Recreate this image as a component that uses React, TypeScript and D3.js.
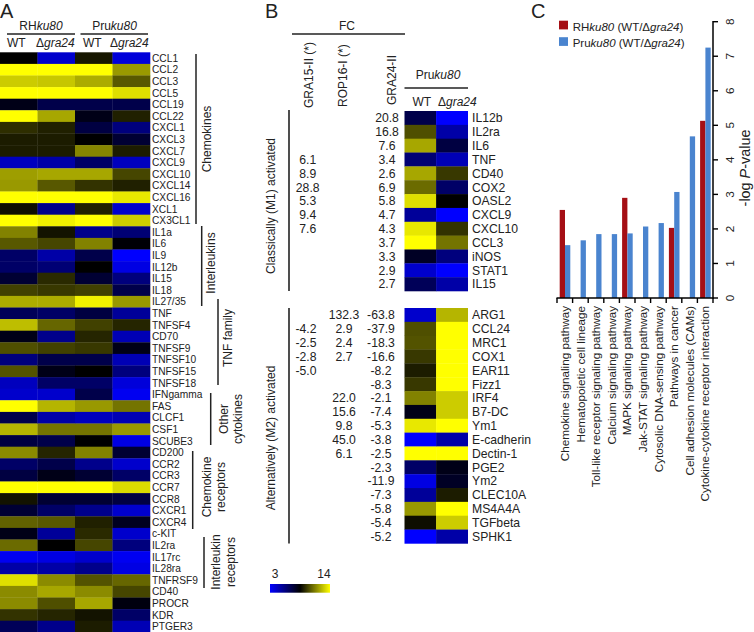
import React from "react";
import * as d3 from "d3";

// Panel A data
const genesA = ["CCL1","CCL2","CCL3","CCL5","CCL19","CCL22","CXCL1","CXCL3","CXCL7","CXCL9","CXCL10","CXCL14","CXCL16","XCL1","CX3CL1","IL1a","IL6","IL9","IL12b","IL15","IL18","IL27/35","TNF","TNFSF4","CD70","TNFSF9","TNFSF10","TNFSF15","TNFSF18","IFNgamma","FAS","CLCF1","CSF1","SCUBE3","CD200","CCR2","CCR3","CCR7","CCR8","CXCR1","CXCR4","c-KIT","IL2ra","IL17rc","IL28ra","TNFRSF9","CD40","PROCR","KDR","PTGER3"];
const rhWT = [8.5,14,12.9,14,8,14,9.5,9.1,9.1,4.4,11.9,11.8,14,8.8,14,11.3,10.4,6.3,6.3,7.4,9.9,12.2,6.6,12.6,8,10.2,5.8,10.3,4.4,4.1,14,6.9,12.4,7.1,11.5,6.3,7.1,14,8.9,7.4,10.6,8,10.8,3.3,4.9,13.3,11.5,11.5,9.6,6.6];
const rhDelta = [4.1,14,12.8,14,6.9,12.1,9.2,9.1,9.1,4.9,12.1,10.4,14,5.5,13.7,8.9,10,4.9,6,9.4,9.7,12.2,6.3,10.7,5.5,9.9,6.9,8,6.3,4.1,12.4,4.9,11,6.9,9.3,6.9,8,14,7.4,6.3,10.4,5.2,8.5,3.6,4.9,11.5,12.1,10.2,9.3,5.5];
const pruWT = [9,14,12.2,14,6.9,8,7.1,8.5,11.4,6.3,12.1,9.6,14,9.2,14,5.5,11.3,6.9,8.5,7.4,9.9,13.7,7.1,9.9,9.3,9.7,6.9,8.5,6.3,6.9,11.8,4.4,11,8.5,11.3,5.5,7.4,14,7.4,5.5,9.2,9.4,10,4.1,5.5,10.3,11.5,12.1,8.9,9.1];
const pruDelta = [3.8,11.8,10.4,13.3,6.9,9.2,5.8,7.4,9.1,4.4,10,9.2,13.5,4.1,12.9,6,8.4,3,3.6,5.8,6.9,11.8,5.2,9.3,4.6,8,4.6,5.8,3.8,3.3,11,4.6,11.8,3.6,7.4,4.1,6.3,13.2,7.1,4.1,7.8,4.1,5.8,3.3,3.6,10.7,10,8.2,6.3,4.6];

// Panel B data
const genesM1 = ["IL12b","IL2ra","IL6","TNF","CD40","COX2","OASL2","CXCL9","CXCL10","CCL3","iNOS","STAT1","IL15"];
const m1WT = [6.9,10.2,12.1,6,12.1,10.8,13.3,5.2,13.5,14,7.7,4.1,6.6];
const m1Delta = [3,4.9,7.1,4.6,9.7,6.3,8.5,3,9.6,11,5.8,3,4.9];
const m1Gra15 = ["","","","6.1","8.9","28.8","5.3","9.4","7.6","","","",""];
const m1Gra24 = ["20.8","16.8","7.6","3.4","2.6","6.9","5.8","4.7","4.3","3.7","3.3","2.9","2.7"];
const genesM2 = ["ARG1","CCL24","MRC1","COX1","EAR11","Fizz1","IRF4","B7-DC","Ym1","E-cadherin","Dectin-1","PGE2","Ym2","CLEC10A","MS4A4A","TGFbeta","SPHK1"];
const m2WT = [4.1,10.2,10.3,9.7,9.1,9.7,11.3,8,13.5,3,14,6.3,3.6,5.2,11.8,8.8,3];
const m2Delta = [12.4,14,14,14,14,14,12.9,12.9,14,4.9,14,8,7.7,9.1,14,12.9,4.9];
const m2Gra15 = ["","-4.2","-2.5","-2.8","-5.0","","","","","","","","","","","",""];
const m2Rop16 = ["132.3","2.9","2.4","2.7","","","22.0","15.6","9.8","45.0","6.1","","","","","",""];
const m2Gra24 = ["-63.8","-37.9","-18.3","-16.6","-8.2","-8.3","-2.1","-7.4","-5.3","-3.8","-2.5","-2.3","-11.9","-7.3","-5.8","-5.4","-5.2"];

// Panel C data
const pathways = ["Chemokine signaling pathway","Hematopoietic cell lineage","Toll-like receptor signaling pathway","Calcium signaling pathway","MAPK signaling pathway","Jak-STAT signaling pathway","Cytosolic DNA-sensing pathway","Pathways in cancer","Cell adhesion molecules (CAMs)","Cytokine-cytokine receptor interaction"];
const rhLogP = [2.55,0,0,0,2.9,0,0,2.03,0,5.13];
const pruLogP = [1.53,1.67,1.85,1.85,1.87,2.07,2.17,3.07,4.68,7.25];
const pTicks = [0,1,2,3,4,5,6,7,8];

const FONT = "'Liberation Sans', Arial, sans-serif";
const INK = "#222";
const color = d3.scaleLinear<string>().domain([3, 8.5, 14]).range(["#0000ff", "#000000", "#ffff00"]);

const T = ({ x, y, s = 12, anchor = "start", rot, fill = INK, children }: any) => (
  <text
    x={rot ? 0 : x}
    y={rot ? 0 : y}
    transform={rot ? `translate(${x},${y}) rotate(${rot})` : undefined}
    fontSize={s}
    textAnchor={anchor}
    fill={fill}
    fontFamily={FONT}
  >
    {children}
  </text>
);
const I = ({ children }: any) => <tspan fontStyle="italic">{children}</tspan>;
const L = ({ x1, y1, x2, y2, w = 1.4, c = "#222" }: any) => (
  <line x1={x1} y1={y1} x2={x2} y2={y2} stroke={c} strokeWidth={w} />
);

const Heat = ({ cols, genes, x0, x1, y0, y1, labelX, labelSize }: any) => {
  const x = d3.scaleBand<number>().domain(d3.range(cols.length)).range([x0, x1]);
  const y = d3.scaleBand<string>().domain(genes).range([y0, y1]);
  return (
    <g>
      {cols.map((col: number[], c: number) =>
        col.map((v, r) => (
          <rect key={`${c}-${r}`} x={x(c)} y={y(genes[r])} width={x.bandwidth() + 0.3} height={y.bandwidth() + 0.3} fill={color(v)} />
        ))
      )}
      {genes.map((g: string) => (
        <T key={g} x={labelX} y={(y(g) as number) + y.bandwidth() / 2 + labelSize * 0.36} s={labelSize}>{g}</T>
      ))}
    </g>
  );
};

const FcCol = ({ values, genes, x, y0, y1 }: any) => {
  const y = d3.scaleBand<string>().domain(genes).range([y0, y1]);
  return (
    <g>
      {values.map((v: string, i: number) =>
        v ? <T key={i} x={x} y={(y(genes[i]) as number) + y.bandwidth() / 2 + 4.4} anchor="middle" s={12.2}>{v}</T> : null
      )}
    </g>
  );
};

const Bracket = ({ x, y1, y2 }: any) => <L x1={x} y1={y1} x2={x} y2={y2} w={1.5} />;

export default function App() {
  const yP = d3.scaleLinear().domain([0, 8]).range([298, 21.7]);
  const xC = d3.scaleBand<string>().domain(pathways).range([557, 713]);
  const bw = 5.3;
  const legendScale = d3.scaleLinear().domain([0, 1]).range([3, 14]);
  const stops = d3.range(0, 1.01, 0.5);

  return (
    <svg width={754} height={632} viewBox="0 0 754 632" style={{ position: "absolute", left: 0, top: 0, display: "block", background: "#fff" }}>
      <defs>
        <linearGradient id="bar">
          {stops.map((s) => (
            <stop key={s} offset={s} stopColor={color(legendScale(s))} />
          ))}
        </linearGradient>
      </defs>

      {/* Panel A */}
      <T x={0} y={18.2} s={20}>A</T>
      <T x={41} y={30} anchor="middle" s={12}>RH<I>ku80</I></T>
      <T x={114.5} y={30} anchor="middle" s={12}>Pru<I>ku80</I></T>
      <L x1={7} y1={34} x2={75} y2={34} />
      <L x1={80.5} y1={34} x2={148} y2={34} />
      <T x={7} y={47} s={12}>WT</T>
      <T x={36} y={47} s={12}>Δ<I>gra24</I></T>
      <T x={83} y={47} s={12}>WT</T>
      <T x={110} y={47} s={12}>Δ<I>gra24</I></T>
      <Heat cols={[rhWT, rhDelta, pruWT, pruDelta]} genes={genesA} x0={0} x1={150} y0={52.3} y1={632.3} labelX={152} labelSize={10.2} />

      <Bracket x={196} y1={54} y2={224} />
      <T x={211} y={139} rot={-90} anchor="middle" s={12}>Chemokines</T>
      <Bracket x={201.7} y1={226} y2={306} />
      <T x={215} y={263} rot={-90} anchor="middle" s={12}>Interleukins</T>
      <Bracket x={218} y1={299} y2={385} />
      <T x={232} y={338} rot={-90} anchor="middle" s={12}>TNF family</T>
      <Bracket x={210.7} y1={393} y2={445} />
      <T x={228} y={419} rot={-90} anchor="middle" s={12}>Other</T>
      <T x={242} y={419} rot={-90} anchor="middle" s={12}>cytokines</T>
      <Bracket x={192.7} y1={451} y2={529} />
      <T x={211} y={487} rot={-90} anchor="middle" s={12}>Chemokine</T>
      <T x={225} y={487} rot={-90} anchor="middle" s={12}>receptors</T>
      <Bracket x={204} y1={537} y2={588} />
      <T x={220} y={562} rot={-90} anchor="middle" s={12}>Interleukin</T>
      <T x={235} y={562} rot={-90} anchor="middle" s={12}>receptors</T>

      {/* Panel B */}
      <T x={265} y={18.2} s={20}>B</T>
      <T x={347} y={30} anchor="middle" s={12}>FC</T>
      <L x1={292} y1={34} x2={405} y2={34} />
      <T x={313} y={108} rot={-90} s={12}>GRA15-II (*)</T>
      <T x={347} y={107} rot={-90} s={12}>ROP16-I (*)</T>
      <T x={396} y={105} rot={-90} s={12}>GRA24-II</T>
      <T x={438} y={79} anchor="middle" s={12}>Pru<I>ku80</I></T>
      <L x1={404.5} y1={88} x2={468} y2={88} />
      <T x={412.5} y={105.5} s={12}>WT</T>
      <T x={438} y={105.5} s={12}>Δ<I>gra24</I></T>

      <L x1={289} y1={110} x2={289} y2={291} w={1.6} />
      <L x1={289} y1={308} x2={289} y2={543.5} w={1.6} />
      <T x={275} y={206} rot={-90} anchor="middle" s={12}>Classically (M1) activated</T>
      <T x={275} y={438} rot={-90} anchor="middle" s={12}>Alternatively (M2) activated</T>

      <Heat cols={[m1WT, m1Delta]} genes={genesM1} x0={404.5} x1={467.7} y0={111} y1={291} labelX={472} labelSize={12.2} />
      <FcCol values={m1Gra15} genes={genesM1} x={307.7} y0={111} y1={291} />
      <FcCol values={m1Gra24} genes={genesM1} x={387} y0={111} y1={291} />

      <Heat cols={[m2WT, m2Delta]} genes={genesM2} x0={404.5} x1={467.7} y0={308} y1={543.4} labelX={472} labelSize={12.2} />
      <FcCol values={m2Gra15} genes={genesM2} x={306} y0={308} y1={543.4} />
      <FcCol values={m2Rop16} genes={genesM2} x={344} y0={308} y1={543.4} />
      <FcCol values={m2Gra24} genes={genesM2} x={381} y0={308} y1={543.4} />

      <T x={275} y={578} anchor="middle" s={12}>3</T>
      <T x={324} y={578} anchor="middle" s={12}>14</T>
      <rect x={270} y={584} width={60} height={8.7} fill="url(#bar)" />

      {/* Panel C */}
      <T x={531} y={18.2} s={20}>C</T>
      <rect x={559} y={20.7} width={9} height={8.7} fill="#a50f15" />
      <T x={572.7} y={31} s={11.5}>RH<I>ku80</I> (WT/Δ<I>gra24</I>)</T>
      <rect x={559} y={37.2} width={9} height={8.7} fill="#4a84cf" />
      <T x={572.7} y={47} s={11.5}>Pru<I>ku80</I> (WT/Δ<I>gra24</I>)</T>

      {pathways.map((p, i) => {
        const x = xC(p) as number;
        return (
          <g key={p}>
            {rhLogP[i] > 0 && <rect x={x + 2.7} y={yP(rhLogP[i])} width={bw} height={298 - yP(rhLogP[i])} fill="#a50f15" />}
            <rect x={x + 2.7 + bw} y={yP(pruLogP[i])} width={bw} height={298 - yP(pruLogP[i])} fill="#4a84cf" />
            <T x={x + xC.bandwidth() / 2 + 4.2} y={306} rot={-90} anchor="end" s={11.7}>{p}</T>
          </g>
        );
      })}
      <L x1={556.5} y1={298} x2={713.7} y2={298} w={1.5} c="#000" />
      {d3.range(0, pathways.length + 1).map((i) => {
        const x = 557 + i * xC.bandwidth();
        return <L key={i} x1={x} y1={298} x2={x} y2={303} w={1.4} c="#000" />;
      })}
      <L x1={713} y1={21} x2={713} y2={298.7} w={1.5} c="#000" />
      {pTicks.map((t) => (
        <g key={t}>
          <L x1={713} y1={yP(t)} x2={718} y2={yP(t)} w={1.4} c="#000" />
          <T x={733.5} y={yP(t)} rot={-90} anchor="middle" s={11.7}>{t}</T>
        </g>
      ))}
      <T x={749.5} y={168} rot={-90} anchor="middle" s={14.4}>-log <I>P</I>-value</T>
    </svg>
  );
}
